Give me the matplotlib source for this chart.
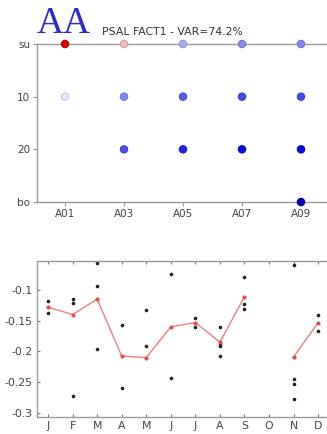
import matplotlib
matplotlib.use("Agg")
import matplotlib.pyplot as plt
import numpy as np
from matplotlib.colors import LinearSegmentedColormap

# ---------------- data ----------------
depth_labels = ["su", "10", "20", "bo"]
depth_values = [0, 10, 20, 30]
station_ticks = ["A01", "A03", "A05", "A07", "A09"]

pt_station = ["A01", "A03", "A05", "A07", "A09",
              "A01", "A03", "A05", "A07", "A09",
              "A03", "A05", "A07", "A09",
              "A09"]
pt_depth = [0, 0, 0, 0, 0,
            10, 10, 10, 10, 10,
            20, 20, 20, 20,
            30]
pt_value = [1.0, 0.25, -0.28, -0.42, -0.45,
            -0.05, -0.45, -0.63, -0.7, -0.7,
            -0.68, -0.86, -0.96, -1.0,
            -1.1]

months = ["J", "F", "M", "A", "M", "J", "J", "A", "S", "O", "N", "D"]
mean_vals = [-0.128, -0.140, -0.115, -0.2075, -0.210, -0.160,
             -0.153, -0.185, -0.111, np.nan, -0.209, -0.153]
obs_month = [1, 1, 2, 2, 2, 3, 3, 3, 4, 4, 5, 5, 6, 6, 7, 7,
             8, 8, 8, 8, 9, 9, 9, 11, 11, 11, 11, 12, 12]
obs_val = [-0.118, -0.137, -0.115, -0.122, -0.273, -0.057, -0.093, -0.196,
           -0.157, -0.259, -0.132, -0.191, -0.074, -0.243, -0.146, -0.160,
           -0.160, -0.188, -0.191, -0.208, -0.079, -0.123, -0.131,
           -0.060, -0.244, -0.253, -0.278, -0.141, -0.166]

# ---------------- figure ----------------
W, H = 327, 434
fig = plt.figure(figsize=(W / 100, H / 100), dpi=100, facecolor="white")

grey = "#9a9a9a"
tcol = "#444444"

# top axes (runs to the right edge of the figure)
ax1 = fig.add_axes([37 / W, 1 - 202 / H, 1 - 37 / W, 158 / H])
cmap = LinearSegmentedColormap.from_list(
    "rwb", [(0.0, "#0000b8"), (0.05, "#0000ee"), (0.52, "#f0f0fc"),
            (0.6, "#f4d0d0"), (1.0, "#dd0000")])
norm = plt.Normalize(-1.1, 1.0)
xs = [int(s[1:]) for s in pt_station]
face = cmap(norm(np.array(pt_value)))
edge = face.copy()
edge[:, :3] *= 0.85
ax1.scatter(xs, pt_depth, s=28, c=face, edgecolors=edge, linewidths=0.8,
            clip_on=False, zorder=3)
ax1.set_xlim(0.05, 0.05 + 290 / 29.5)
ax1.set_ylim(30, 0)
ax1.set_xticks([int(s[1:]) for s in station_ticks])
ax1.set_xticklabels(station_ticks)
ax1.set_yticks(depth_values)
ax1.set_yticklabels(depth_labels)
for sp in ["left", "bottom", "top"]:
    ax1.spines[sp].set_color(grey)
    ax1.spines[sp].set_linewidth(1.0)
ax1.spines["right"].set_visible(False)
ax1.tick_params(axis="both", direction="out", length=3, width=0.8, color=grey,
                labelsize=7.5, labelcolor=tcol, pad=2)

fig.text(37 / W, 1 - 33 / H, "AA", fontsize=27, color="#2a2ad0",
         family="Liberation Serif", ha="left", va="baseline")
fig.text(102 / W, 1 - 35 / H, "PSAL FACT1 - VAR=74.2%", fontsize=7.8,
         color="#333333", ha="left", va="baseline")

# bottom axes (runs to the right edge of the figure)
ax2 = fig.add_axes([37 / W, 1 - 417 / H, 1 - 37 / W, 156 / H])
mx = np.arange(1, len(months) + 1)
ax2.plot(obs_month, obs_val, ls="none", marker="o", ms=1.6, color="#222222")
ax2.plot(mx, mean_vals, color="#f08080", lw=1.0, marker="o", ms=2,
         mfc="#e05050", mec="#e05050")
ax2.set_xlim(0.55, 0.55 + 290 / 24.55)
ax2.set_ylim(-0.3065, -0.053)
ax2.set_xticks(mx)
ax2.set_xticklabels(months)
ax2.set_yticks([-0.1, -0.15, -0.2, -0.25, -0.3])
ax2.set_yticklabels(["-0.1", "-0.15", "-0.2", "-0.25", "-0.3"])
for sp in ax2.spines.values():
    sp.set_color(grey)
    sp.set_linewidth(1.0)
ax2.spines["right"].set_visible(False)
ax2.tick_params(axis="both", direction="in", length=2.5, width=0.8, color="#777777",
                labelsize=7.8, labelcolor=tcol, top=True, right=False, pad=3)

fig.savefig("out.png", dpi=100)
